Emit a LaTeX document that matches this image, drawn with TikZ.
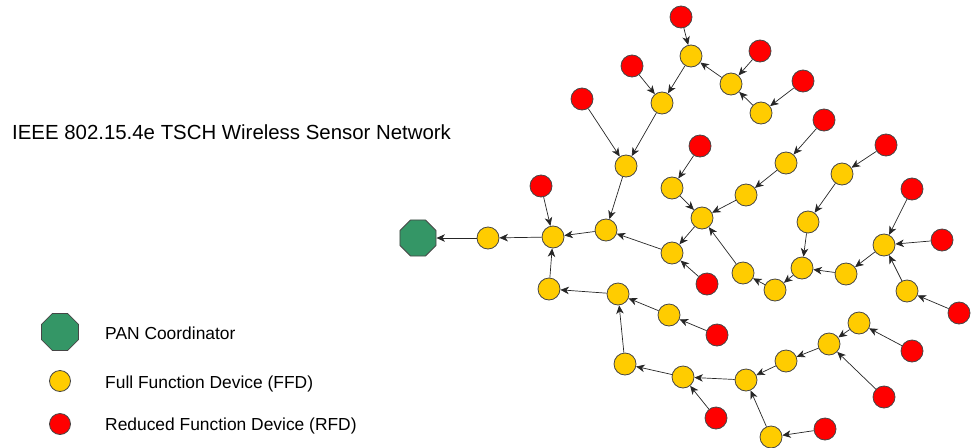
\documentclass[tikz,border=0pt]{standalone}
\usepackage{fontspec}
\setmainfont{Liberation Sans}
\usepackage{tikz}
\usetikzlibrary{arrows.meta}
\usetikzlibrary{shapes.geometric}
\usepackage{xcolor}

\definecolor{pangreen}{RGB}{52,150,102}
\definecolor{ffdyellow}{RGB}{255,204,0}
\definecolor{rfdred}{RGB}{255,0,0}
\definecolor{rim}{RGB}{70,70,70}

\tikzset{
  ffd/.style={circle, draw=rim, line width=0.8pt, fill=ffdyellow, minimum size=22pt, inner sep=0pt},
  rfd/.style={circle, draw=rim, line width=0.8pt, fill=rfdred, minimum size=22pt, inner sep=0pt},
  pan/.style={regular polygon, regular polygon sides=8, draw=rim, line width=0.8pt, fill=pangreen, minimum size=39pt, inner sep=0pt},
  link/.style={draw=black!85, line width=0.7pt, -{Stealth[length=8.5pt,width=7.5pt,inset=2.5pt]}},
  title/.style={anchor=base west, inner sep=0pt, font=\fontsize{20.4}{24}\selectfont},
  legtext/.style={anchor=base west, inner sep=0pt, font=\fontsize{17.4}{21}\selectfont}
}

\begin{document}
\begin{tikzpicture}[x=1pt,y=-1pt]
\useasboundingbox (0,0) rectangle (976,447);

\node[title] (head) at (12,139) {IEEE 802.15.4e TSCH Wireless Sensor Network};

% coordinator
\node[pan] (c) at (418,238) {};

% full function devices
\node[ffd] (f1) at (488,238) {};
\node[ffd] (f2) at (553,237) {};
\node[ffd] (f3) at (606,230) {};
\node[ffd] (f4) at (626,166) {};
\node[ffd] (f5) at (662,103) {};
\node[ffd] (f6) at (691,56) {};
\node[ffd] (f7) at (731,84) {};
\node[ffd] (f8) at (761,113) {};
\node[ffd] (f9) at (672,253) {};
\node[ffd] (f10) at (702,218) {};
\node[ffd] (f11) at (672,188) {};
\node[ffd] (f12) at (746,195) {};
\node[ffd] (f13) at (786,163) {};
\node[ffd] (f14) at (743,273) {};
\node[ffd] (f15) at (775,290) {};
\node[ffd] (f16) at (802,268) {};
\node[ffd] (f17) at (808,222) {};
\node[ffd] (f18) at (842,174) {};
\node[ffd] (f19) at (846,274) {};
\node[ffd] (f20) at (884,245) {};
\node[ffd] (f21) at (907,291) {};
\node[ffd] (f22) at (549,289) {};
\node[ffd] (f23) at (618,294) {};
\node[ffd] (f24) at (669,315) {};
\node[ffd] (f25) at (625,364) {};
\node[ffd] (f26) at (683,377) {};
\node[ffd] (f27) at (746,380) {};
\node[ffd] (f28) at (786,361) {};
\node[ffd] (f29) at (829,344) {};
\node[ffd] (f30) at (859,323) {};
\node[ffd] (f31) at (771,437) {};

% reduced function devices
\node[rfd] (r1) at (681,17) {};
\node[rfd] (r2) at (760,51) {};
\node[rfd] (r3) at (632,66) {};
\node[rfd] (r4) at (803,81) {};
\node[rfd] (r5) at (582,99) {};
\node[rfd] (r6) at (824,120) {};
\node[rfd] (r7) at (700,146) {};
\node[rfd] (r8) at (886,145) {};
\node[rfd] (r9) at (541,186) {};
\node[rfd] (r10) at (912,189) {};
\node[rfd] (r11) at (942,240) {};
\node[rfd] (r12) at (707,284) {};
\node[rfd] (r13) at (959,313) {};
\node[rfd] (r14) at (717,335) {};
\node[rfd] (r15) at (912,351) {};
\node[rfd] (r16) at (884,397) {};
\node[rfd] (r17) at (716,418) {};
\node[rfd] (r18) at (825,429) {};

% links towards the coordinator
\draw[link] (f1) -- (c);
\draw[link] (f2) -- (f1);
\draw[link] (f3) -- (f2);
\draw[link] (f4) -- (f3);
\draw[link] (f5) -- (f4);
\draw[link] (f6) -- (f5);
\draw[link] (f7) -- (f6);
\draw[link] (f8) -- (f7);
\draw[link] (f9) -- (f3);
\draw[link] (f10) -- (f9);
\draw[link] (f11) -- (f10);
\draw[link] (f12) -- (f10);
\draw[link] (f13) -- (f12);
\draw[link] (f14) -- (f10);
\draw[link] (f15) -- (f14);
\draw[link] (f16) -- (f15);
\draw[link] (f17) -- (f16);
\draw[link] (f18) -- (f17);
\draw[link] (f19) -- (f16);
\draw[link] (f20) -- (f19);
\draw[link] (f21) -- (f20);
\draw[link] (f22) -- (f2);
\draw[link] (f23) -- (f22);
\draw[link] (f24) -- (f23);
\draw[link] (f25) -- (f23);
\draw[link] (f26) -- (f25);
\draw[link] (f27) -- (f26);
\draw[link] (f28) -- (f27);
\draw[link] (f29) -- (f28);
\draw[link] (f30) -- (f29);
\draw[link] (f31) -- (f27);

\draw[link] (r1) -- (f6);
\draw[link] (r2) -- (f7);
\draw[link] (r3) -- (f5);
\draw[link] (r4) -- (f8);
\draw[link] (r5) -- (f4);
\draw[link] (r6) -- (f13);
\draw[link] (r7) -- (f11);
\draw[link] (r8) -- (f18);
\draw[link] (r9) -- (f2);
\draw[link] (r10) -- (f20);
\draw[link] (r11) -- (f20);
\draw[link] (r12) -- (f9);
\draw[link] (r13) -- (f21);
\draw[link] (r14) -- (f24);
\draw[link] (r15) -- (f30);
\draw[link] (r16) -- (f29);
\draw[link] (r17) -- (f26);
\draw[link] (r18) -- (f31);

% legend
\node[pan, minimum size=40pt] (kpan) at (60,332) {};
\node[ffd, minimum size=21pt] (kffd) at (60,381) {};
\node[rfd, minimum size=21pt] (krfd) at (60,424) {};
\node[legtext] (tpan) at (105,339) {PAN Coordinator};
\node[legtext] (tffd) at (105,388) {Full Function Device (FFD)};
\node[legtext] (trfd) at (105,430.5) {Reduced Function Device (RFD)};
\end{tikzpicture}
\end{document}
